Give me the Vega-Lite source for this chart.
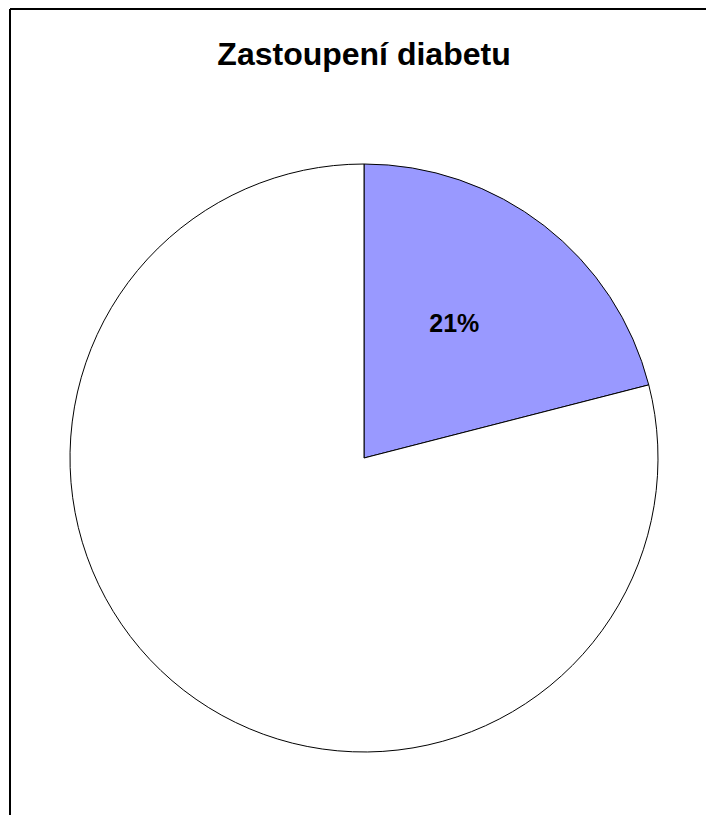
{
  "$schema": "https://vega.github.io/schema/vega-lite/v6.json",
  "autosize": {"type": "none"},
  "padding": {"left": 22, "top": 101, "right": 0, "bottom": 0},
  "width": 684,
  "height": 714,
  "background": "white",
  "view": {"stroke": null},
  "title": {
    "text": "Zastoupení diabetu",
    "font": "Liberation Sans",
    "fontSize": 32,
    "fontWeight": "bold",
    "color": "#000000",
    "anchor": "middle",
    "frame": "group",
    "baseline": "middle",
    "offset": -79
  },
  "layer": [
    {
      "data": {
        "values": [
          {"category": "diabetes", "value": 21, "label": "21%", "ord": 1},
          {"category": "ostatní", "value": 79, "label": "", "ord": 2}
        ]
      },
      "encoding": {
        "theta": {"field": "value", "type": "quantitative", "stack": true},
        "order": {"field": "ord", "type": "quantitative"}
      },
      "layer": [
        {
          "mark": {"type": "arc", "outerRadius": 294, "stroke": "#000000", "strokeWidth": 1},
          "encoding": {
            "color": {
              "field": "category",
              "type": "nominal",
              "scale": {"domain": ["diabetes", "ostatní"], "range": ["#9999FF", "#FFFFFF"]},
              "legend": null
            }
          }
        },
        {
          "mark": {"type": "text", "radius": 162, "dx": -9, "dy": -6, "font": "Liberation Sans", "fontSize": 25, "fontWeight": "bold", "color": "#000000"},
          "encoding": {
            "text": {"field": "label", "type": "nominal"}
          }
        }
      ]
    },
    {
      "data": {"values": [{"edge": "top"}]},
      "mark": {"type": "rule", "color": "#000000", "strokeWidth": 2},
      "encoding": {"x": {"value": -12}, "x2": {"value": 684}, "y": {"value": -92}}
    },
    {
      "data": {"values": [{"edge": "left"}]},
      "mark": {"type": "rule", "color": "#000000", "strokeWidth": 2},
      "encoding": {"x": {"value": -12}, "y": {"value": -92}, "y2": {"value": 730}}
    }
  ]
}
